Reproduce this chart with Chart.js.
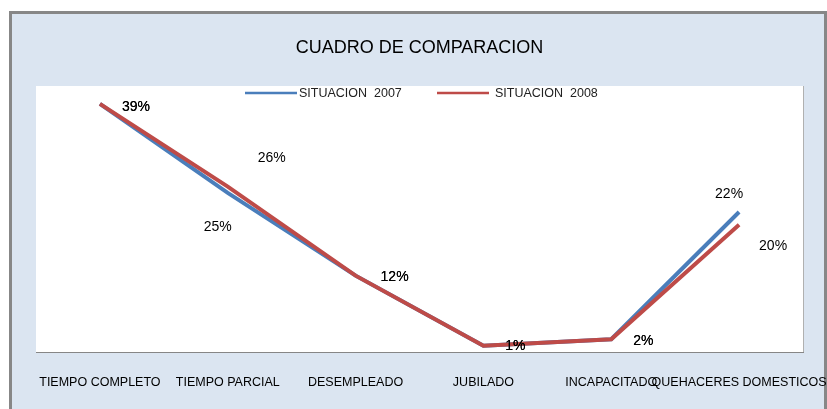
<!DOCTYPE html>
<html>
<head>
<meta charset="utf-8">
<script src="https://cdn.jsdelivr.net/npm/chart.js@4"></script>
<style>
html,body{margin:0;padding:0;background:#fff;}
#wrap{width:827px;height:409px;position:relative;}
</style>
</head>
<body>
<div id="wrap"><canvas id="c" width="827" height="409"></canvas></div>
<script>
const categories = ['TIEMPO COMPLETO', 'TIEMPO PARCIAL', 'DESEMPLEADO', 'JUBILADO', 'INCAPACITADO', 'QUEHACERES DOMESTICOS'];
const seriesNames = ['SITUACION  2007', 'SITUACION  2008'];
const values2007 = [39, 25, 12, 1, 2, 22];
const values2008 = [39, 26, 12, 1, 2, 20];
const titleText = 'CUADRO DE COMPARACION';

const FONT = "'Liberation Sans Narrow', 'Liberation Sans', Arial, sans-serif";

// label offsets (label centre relative to point), per dataset
const labelOffsets = [
  [[36,3],[-10,34],[39,2],[32,1],[32,2],[-10,-18]],
  [[36,3],[44,-28],[39,2],[32,1],[32,2],[34,21]]
];

const framePlugin = {
  id: 'frame',
  beforeDraw(chart) {
    const ctx = chart.ctx;
    ctx.save();
    ctx.fillStyle = '#ffffff';
    ctx.fillRect(0, 0, chart.width, chart.height);
    ctx.fillStyle = '#dbe5f1';
    ctx.fillRect(10, 12, 816, 420);
    ctx.strokeStyle = '#878787';
    ctx.lineWidth = 3;
    ctx.strokeRect(10.5, 12.5, 815, 420);
    const a = chart.chartArea;
    ctx.fillStyle = '#ffffff';
    ctx.fillRect(a.left, a.top, a.right - a.left, a.bottom - a.top);
    ctx.strokeStyle = '#b0b0b0';
    ctx.lineWidth = 1;
    ctx.beginPath();
    ctx.moveTo(a.right + 0.5, a.top);
    ctx.lineTo(a.right + 0.5, a.bottom);
    ctx.stroke();
    ctx.restore();
  }
};

const legendPlugin = {
  id: 'customLegend',
  afterDraw(chart) {
    const ctx = chart.ctx;
    const pos = [[245, 297, 299], [437, 489, 495]];
    const y = 93;
    ctx.save();
    ctx.font = '12.5px ' + FONT;
    ctx.textBaseline = 'middle';
    ctx.textAlign = 'left';
    chart.data.datasets.forEach((ds, i) => {
      const p = pos[i];
      ctx.strokeStyle = ds.borderColor;
      ctx.lineWidth = 2.5;
      ctx.beginPath();
      ctx.moveTo(p[0], y);
      ctx.lineTo(p[1], y);
      ctx.stroke();
      ctx.fillStyle = '#222';
      ctx.fillText(ds.label, p[2], y + 0.5);
    });
    ctx.restore();
  }
};

const labelPlugin = {
  id: 'pctLabels',
  afterDatasetsDraw(chart) {
    const ctx = chart.ctx;
    ctx.save();
    ctx.font = '14px ' + FONT;
    ctx.fillStyle = '#000';
    ctx.textAlign = 'center';
    ctx.textBaseline = 'middle';
    chart.data.datasets.forEach((ds, di) => {
      const meta = chart.getDatasetMeta(di);
      meta.data.forEach((pt, i) => {
        const off = labelOffsets[di][i];
        ctx.fillText(ds.data[i] + '%', pt.x + off[0], pt.y + off[1]);
      });
    });
    ctx.restore();
  }
};

new Chart(document.getElementById('c'), {
  type: 'line',
  data: {
    labels: categories,
    datasets: [
      { label: seriesNames[0], data: values2007, borderColor: '#4a7ebb', backgroundColor: '#4a7ebb', borderWidth: 4, pointRadius: 0, tension: 0, order: 1 },
      { label: seriesNames[1], data: values2008, borderColor: '#be4b48', backgroundColor: '#be4b48', borderWidth: 4, pointRadius: 0, tension: 0, order: 0 }
    ]
  },
  options: {
    responsive: false,
    animation: false,
    events: [],
    layout: { padding: { left: 36, right: 24, top: 0, bottom: 0 } },
    plugins: {
      legend: { display: false },
      tooltip: { enabled: false },
      title: {
        display: true,
        text: titleText,
        color: '#000',
        font: { family: FONT, size: 18, weight: 'normal', lineHeight: 1.2 },
        padding: { top: 37, bottom: 27.4 }
      }
    },
    scales: {
      x: {
        offset: true,
        grid: { display: false, drawTicks: false },
        border: { display: true, color: '#868686', width: 1 },
        ticks: { autoSkip: false, maxRotation: 0, minRotation: 0, padding: 23, color: '#000', font: { family: FONT, size: 12.5 } },
        afterFit(s) { s.height = 57; s.paddingLeft = 0; s.paddingRight = 0; }
      },
      y: {
        display: false,
        min: 0,
        max: 41.8
      }
    }
  },
  plugins: [framePlugin, legendPlugin, labelPlugin]
});
</script>
</body>
</html>
